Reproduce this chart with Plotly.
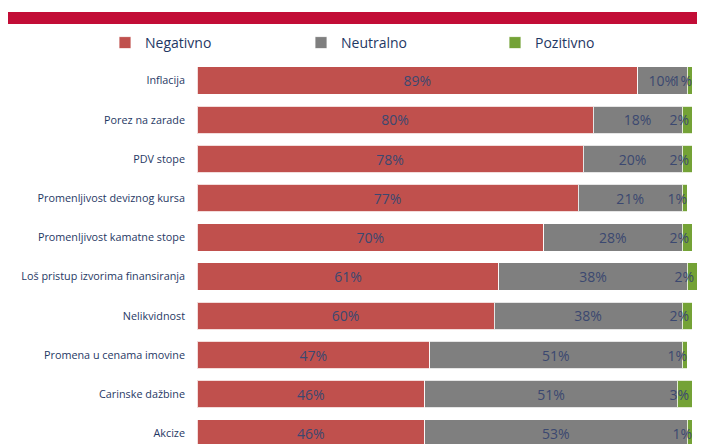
import plotly.graph_objects as go

categories = [
    "Inflacija",
    "Porez na zarade",
    "PDV stope",
    "Promenljivost deviznog kursa",
    "Promenljivost kamatne stope",
    "Loš pristup izvorima finansiranja",
    "Nelikvidnost",
    "Promena u cenama imovine",
    "Carinske dažbine",
    "Akcize",
]
negativno = [89, 80, 78, 77, 70, 61, 60, 47, 46, 46]
neutralno = [10, 18, 20, 21, 28, 38, 38, 51, 51, 53]
pozitivno = [1, 2, 2, 1, 2, 2, 2, 1, 3, 1]

series = [
    ("Negativno", negativno, "#c0504d", "legend", 145, "middle"),
    ("Neutralno", neutralno, "#7f7f7f", "legend2", 341, "middle"),
    ("Pozitivno", pozitivno, "#74a236", "legend3", 535, "end"),
]

OFF = 8  # page body margin
W, H = 705 - 2 * OFF, 444 - OFF
ML, MR, MT, MB = 197 - OFF, 0, 61 - OFF, 0
PW, PH = W - ML - MR, H - MT - MB
UNIT = 39.2  # category pitch in px
Y_BOTTOM = -0.5 + PH / UNIT

fig = go.Figure()
for name, vals, color, leg, _, anchor in series:
    fig.add_trace(go.Bar(
        name=name, y=categories, x=vals, orientation="h",
        marker=dict(color=color, line=dict(color="rgba(255,255,255,0.8)", width=1)),
        text=[f"{v}%" for v in vals],
        textposition="inside", insidetextanchor=anchor, constraintext="none",
        textangle=0,
        textfont=dict(family="Open Sans", size=14, color="#3b4870"),
        cliponaxis=False, legend=leg,
    ))

def px_x(x):
    return (x - OFF - ML) / PW

def px_y(y):
    return 1 + (MT - (y - OFF)) / PH

fig.add_shape(type="rect", xref="paper", yref="paper",
              x0=px_x(6), x1=px_x(706), y0=px_y(24), y1=px_y(12),
              fillcolor="#c20d36", line=dict(width=0), layer="above")

legends = {}
for name, vals, color, leg, text_x, _ in series:
    legends[leg] = dict(
        orientation="h", xref="container", yref="container",
        x=(text_x - 40 - OFF) / W, xanchor="left", y=1 - (43 - OFF) / H, yanchor="middle",
        bgcolor="rgba(0,0,0,0)",
        font=dict(family="Open Sans", size=14, color="#1f3864"),
    )

fig.update_layout(
    width=W, height=H,
    margin=dict(l=ML, r=MR, t=MT, b=MB, pad=0, autoexpand=False),
    barmode="stack", bargap=0.3,
    plot_bgcolor="white", paper_bgcolor="white",
    font=dict(family="Open Sans", color="#1f3864"),
    xaxis=dict(range=[0, 101], visible=False, fixedrange=True, automargin=False),
    yaxis=dict(range=[Y_BOTTOM, -0.5], showgrid=False, zeroline=False, showline=False,
               ticks="", ticklabelstandoff=11, automargin=False,
               tickfont=dict(family="Open Sans", size=10.8, color="#1f3864")),
    showlegend=True,
    **legends,
)

fig.write_html("out.html")
